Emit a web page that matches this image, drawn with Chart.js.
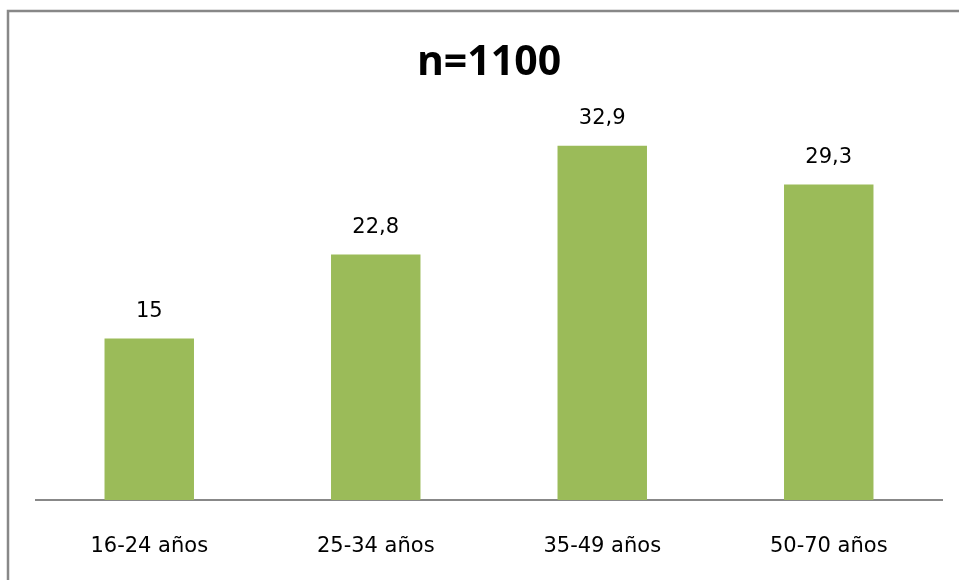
<!DOCTYPE html>
<html>
<head>
<meta charset="utf-8">
<script src="https://cdn.jsdelivr.net/npm/chart.js@4/dist/chart.umd.min.js"></script>
<style>
  html, body { margin: 0; padding: 0; background: #fff; }
  canvas { display: block; }
</style>
</head>
<body>
<canvas id="chart" width="959" height="580"></canvas>
<script>
// Age groups and share of respondents (%)
const categories = ['16-24 años', '25-34 años', '35-49 años', '50-70 años'];
const values = [15, 22.8, 32.9, 29.3];
const titleText = 'n=1100';

const BAR_COLOR = '#9BBB59';
const FRAME_COLOR = '#888888';

// Decimal comma for value labels
const fmt = v => String(v).replace('.', ',');

// White background and the frame on the left and top edges
const framePlugin = {
  id: 'frame',
  beforeDraw(chart) {
    const ctx = chart.ctx;
    ctx.save();
    ctx.fillStyle = '#ffffff';
    ctx.fillRect(0, 0, chart.width, chart.height);
    ctx.strokeStyle = FRAME_COLOR;
    ctx.lineWidth = 2.5;
    ctx.beginPath();
    ctx.moveTo(8, chart.height);
    ctx.lineTo(8, 11);
    ctx.lineTo(chart.width, 11);
    ctx.stroke();
    ctx.restore();
  }
};

// Value labels above each bar
const valueLabels = {
  id: 'valueLabels',
  afterDatasetsDraw(chart) {
    const ctx = chart.ctx;
    const meta = chart.getDatasetMeta(0);
    ctx.save();
    ctx.font = '21px "DejaVu Sans"';
    ctx.fillStyle = '#000';
    ctx.textAlign = 'center';
    ctx.textBaseline = 'alphabetic';
    meta.data.forEach((bar, i) => {
      ctx.fillText(fmt(chart.data.datasets[0].data[i]), bar.x, bar.y - 22);
    });
    ctx.restore();
  }
};

new Chart(document.getElementById('chart'), {
  type: 'bar',
  data: {
    labels: categories,
    datasets: [{
      data: values,
      backgroundColor: BAR_COLOR,
      borderWidth: 0,
      barPercentage: 0.395,
      categoryPercentage: 1
    }]
  },
  options: {
    responsive: false,
    animation: false,
    layout: { padding: { left: 36, right: 17, top: 10, bottom: 0 } },
    plugins: {
      legend: { display: false },
      tooltip: { enabled: false },
      title: {
        display: true,
        text: titleText,
        color: '#000',
        font: { family: '"Open Sans"', size: 41, weight: 'bold' },
        padding: { top: 29, bottom: 35 }
      }
    },
    scales: {
      x: {
        grid: { display: false },
        border: { display: true, color: FRAME_COLOR, width: 2 },
        ticks: {
          color: '#000',
          padding: 26,
          font: { family: '"DejaVu Sans"', size: 21 }
        },
        afterFit(scale) { scale.height = 80; }
      },
      y: {
        display: false,
        min: 0,
        max: 35
      }
    }
  },
  plugins: [framePlugin, valueLabels]
});
</script>
</body>
</html>
